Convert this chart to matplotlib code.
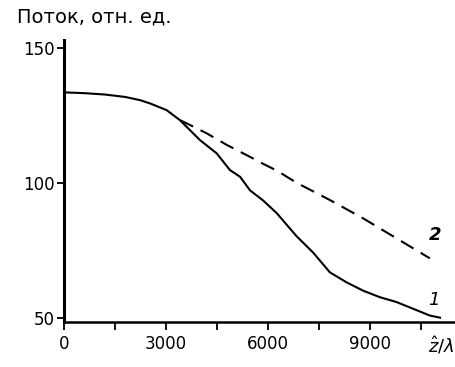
import matplotlib
matplotlib.use("Agg")
from matplotlib import pyplot as plt

# curve 1 (solid)
x1 = [0, 600, 1200, 1800, 2240, 2530, 3020, 3410, 4000, 4490, 4880, 5180, 5470, 5860,
      6260, 6840, 7330, 7820, 8310, 8800, 9290, 9780, 10270, 10760, 11060]
y1 = [133.5, 133.2, 132.7, 131.8, 130.6, 129.4, 126.9, 123.2, 115.8, 110.9, 104.7, 102.2,
      97.2, 93.4, 88.7, 80.2, 74.1, 66.8, 63.1, 60.0, 57.6, 55.8, 53.3, 50.8, 50.0]

# curve 2 (dashed), splits from curve 1 near 3400
x2 = [3410, 3610, 4200, 4790, 5470, 5860, 6260, 6840, 7820, 8800, 9780, 10760]
y2 = [123.2, 122.0, 118.3, 114.0, 109.6, 107.0, 104.5, 100.0, 93.6, 86.8, 79.4, 72.0]

xticks = [0, 3000, 6000, 9000]
xminor = [1500, 4500, 7500, 10500]
yticks = [50, 100, 150]

plt.rcParams['font.family'] = ['DejaVu Sans']

fig = plt.figure(figsize=(4.56, 3.67), dpi=100)
ax = fig.add_axes([0.1404, 0.1226, 0.8596, 0.7684])

ax.plot(x1, y1, color='black', lw=1.5)
ax.plot(x2, y2, color='black', lw=1.5, dashes=(7, 4))

ax.set_xlim(0, 11530)
ax.set_ylim(48.4, 152.9)
ax.set_xticks(xticks)
ax.set_xticks(xminor, minor=True)
ax.set_yticks(yticks)
ax.tick_params(axis='both', labelsize=12, width=1.3, length=6, direction='out')
ax.tick_params(axis='x', which='minor', width=1.3, length=6, direction='out')
ax.tick_params(axis='y', length=5, pad=2)

for s in ['top', 'right']:
    ax.spines[s].set_visible(False)
ax.spines['left'].set_linewidth(2.2)
ax.spines['bottom'].set_linewidth(1.8)

ax.text(10930, 80.5, '2', fontsize=13, style='italic', fontweight='bold',
        ha='center', va='center')
ax.text(10870, 56.5, '1', fontsize=13, style='italic', ha='center', va='center')

fig.text(0.997, 0.058, r'$\hat{z}/\lambda$', fontsize=13, ha='right', va='center')
fig.text(0.038, 0.953, 'Поток, отн. ед.', fontsize=14, ha='left', va='center')

fig.savefig('out.png', dpi=100)
